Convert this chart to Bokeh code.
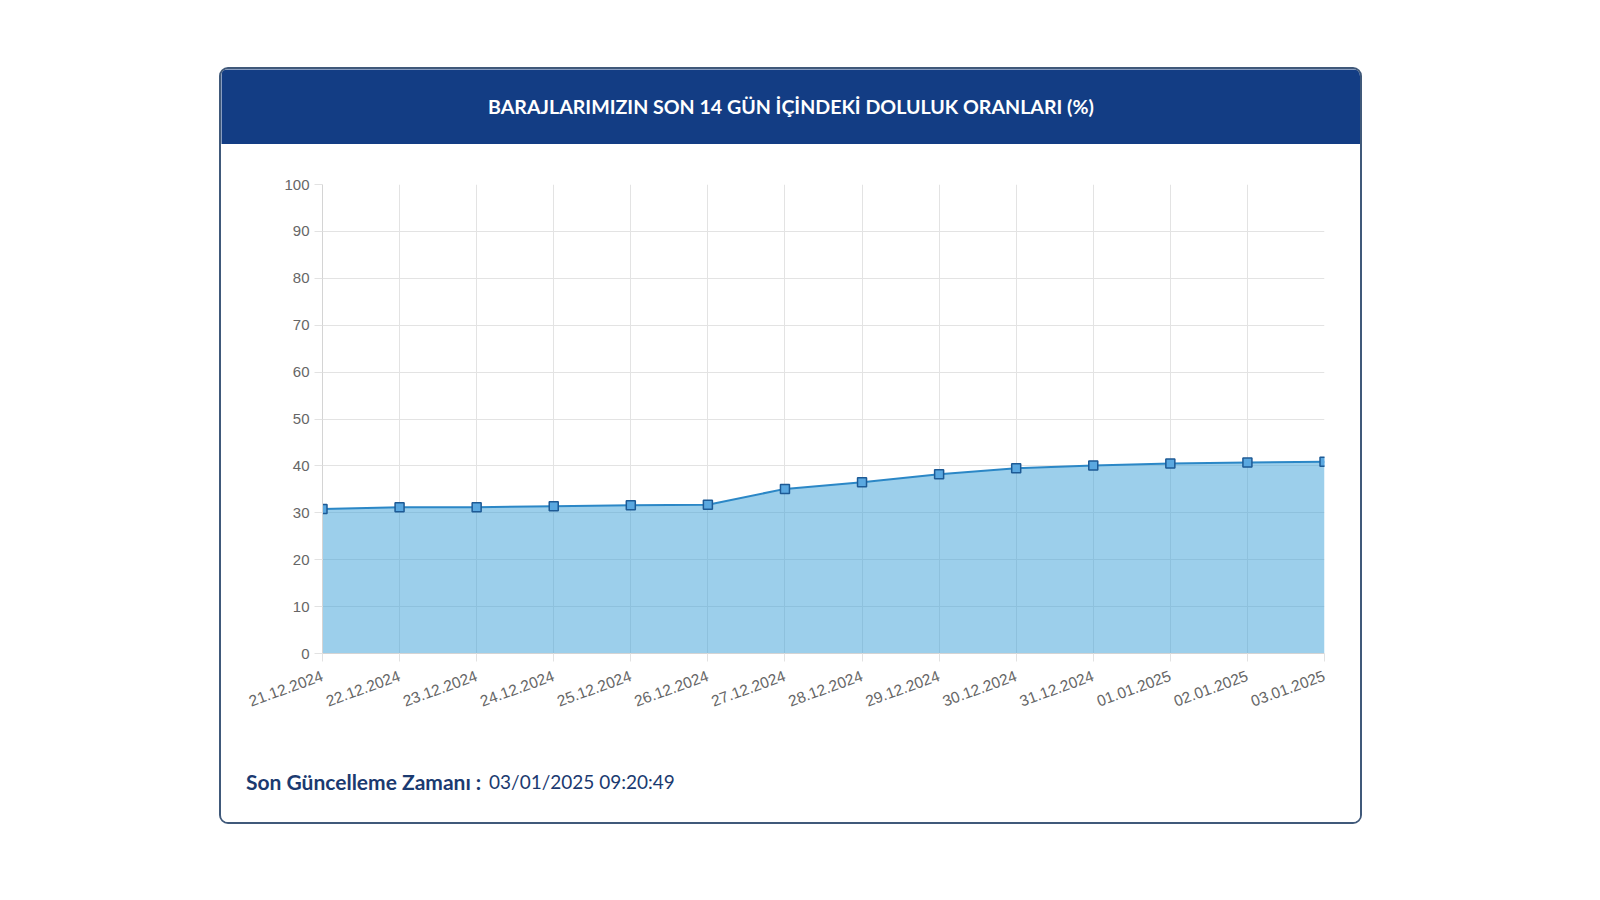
import math
from bokeh.plotting import figure
from bokeh.models import Range1d, FixedTicker, Label, Spacer
from bokeh.layouts import column, row
from bokeh.embed import file_html
from bokeh.resources import INLINE

# ---- data ----
dates = ["21.12.2024", "22.12.2024", "23.12.2024", "24.12.2024", "25.12.2024",
         "26.12.2024", "27.12.2024", "28.12.2024", "29.12.2024", "30.12.2024",
         "31.12.2024", "01.01.2025", "02.01.2025", "03.01.2025"]
doluluk = [30.8, 31.2, 31.2, 31.4, 31.6, 31.7, 35.1, 36.5, 38.2, 39.5, 40.1, 40.5, 40.7, 40.9]
y_ticks = [0, 10, 20, 30, 40, 50, 60, 70, 80, 90, 100]
title_text = "BARAJLARIMIZIN SON 14 GÜN İÇİNDEKİ DOLULUK ORANLARI (%)"
footer_bold = "Son Güncelleme Zamanı :"
footer_value = "03/01/2025 09:20:49"

W = 1139
BL, BR = 101, 36
NAVY = "#133d84"
TXT = "#1b3a70"


def blank(height, fill):
    f = figure(width=W, height=height, x_range=Range1d(0, W), y_range=Range1d(0, height),
               output_backend="svg", toolbar_location=None,
               x_axis_location=None, y_axis_location=None, min_border=0)
    f.grid.visible = False
    f.outline_line_color = None
    f.background_fill_color = fill
    f.border_fill_color = fill
    return f


# ---- header ----
hdr = blank(75, NAVY)
hdr.add_layout(Label(x=W / 2, y=38.5, text=title_text, text_align="center",
                     text_baseline="middle", text_color="white",
                     text_font="Lato", text_font_style="bold", text_font_size="19.6px"))

# ---- chart ----
xs = list(range(len(dates)))
p = figure(width=W, height=580, x_range=Range1d(0, len(dates) - 1), y_range=Range1d(0, 100),
           output_backend="svg", toolbar_location=None,
           min_border_left=BL, min_border_right=BR, min_border_top=40, min_border_bottom=71)
p.outline_line_color = None
p.background_fill_color = "white"
p.border_fill_color = "white"

p.varea(x=xs, y1=[0] * len(xs), y2=doluluk, fill_color="#3a9fd8", fill_alpha=0.5)
p.line(xs, doluluk, line_color="#2b87c6", line_width=2)
p.scatter(xs, doluluk, marker="square", size=9, fill_color="#5aa8e0",
          line_color="#1d5a95", line_width=1.5)

p.xaxis.ticker = FixedTicker(ticks=xs)
p.xaxis.major_label_overrides = {i: d for i, d in enumerate(dates)}
p.xaxis.major_label_orientation = math.radians(20)
p.yaxis.ticker = FixedTicker(ticks=y_ticks)

for ax in (p.xaxis, p.yaxis):
    ax.axis_line_color = "#d4d4d4"
    ax.major_tick_line_color = "#e2e2e2"
    ax.major_tick_out = 8
    ax.major_tick_in = 0
    ax.minor_tick_line_color = None
    ax.major_label_text_font = "Liberation Sans"
    ax.major_label_text_font_size = "15px"
    ax.major_label_text_color = "#666666"
p.xaxis.major_label_text_font_size = "15.5px"
p.yaxis.major_label_standoff = 5
p.xaxis.major_label_standoff = 14

p.grid.grid_line_color = "#e3e3e3"
p.grid.grid_line_width = 1

# ---- footer ----
ftr = blank(98, "white")
ftr.add_layout(Label(x=24.5, y=41, text=footer_bold, text_align="left",
                     text_baseline="middle", text_color=TXT, text_font="Lato",
                     text_font_style="bold", text_font_size="21px"))
ftr.add_layout(Label(x=267.5, y=41, text=footer_value, text_align="left",
                     text_baseline="middle", text_color=TXT, text_font="Lato",
                     text_font_size="19px"))

card = column(row(hdr), row(p), row(ftr),
              styles={"border": "2px solid #40597a", "border-radius": "9px",
                      "overflow": "hidden"})
page = column(Spacer(height=67), row(Spacer(width=219), card))

open("out.html", "w").write(file_html(page, INLINE))
